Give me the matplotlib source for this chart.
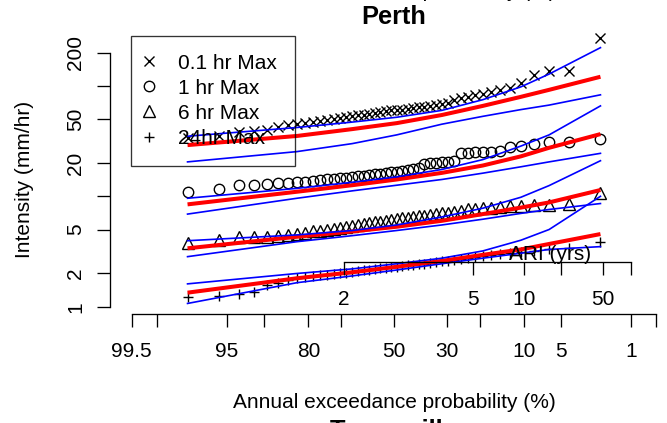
from statistics import NormalDist
import matplotlib
matplotlib.use('Agg')
import matplotlib.pyplot as plt

plt.rcParams['font.family'] = ['Liberation Sans', 'DejaVu Sans']

W, H = 667, 423                 # размер картинки в пикселях
FS = 15                         # основной размер шрифта

# Годовые максимумы интенсивности (мм/ч), по возрастанию
max_01hr = [34, 35, 38, 39, 40, 42, 44, 45, 46, 47, 48, 49, 50, 51, 52, 53,
            54, 55, 56, 57, 58, 59, 60, 60, 61, 62, 63, 64, 65, 66, 67, 68,
            70, 74, 78, 80, 83, 85, 88, 91, 96, 107, 126, 136, 136, 272]
max_1hr = [10.9, 11.6, 12.6, 12.6, 12.9, 13.1, 13.2, 13.4, 13.6, 13.8, 14.0,
           14.2, 14.4, 14.6, 14.8, 15.0, 15.2, 15.4, 15.6, 15.8, 16.0, 16.3,
           16.5, 16.7, 17.0, 17.3, 17.5, 18.0, 19.8, 20.0, 20.2, 20.4, 20.6,
           20.8, 24.5, 24.8, 25.0, 25.2, 25.4, 25.6, 28.0, 28.7, 29.6, 30.8,
           30.8, 32.8]
max_6hr = [3.80, 4.02, 4.25, 4.25, 4.30, 4.37, 4.47, 4.6, 4.7, 4.8, 4.9, 5.0,
           5.1, 5.2, 5.3, 5.4, 5.5, 5.6, 5.7, 5.8, 5.9, 6.0, 6.1, 6.2, 6.3,
           6.4, 6.5, 6.6, 6.7, 6.8, 6.9, 7.0, 7.1, 7.2, 7.4, 7.6, 7.7, 7.8,
           7.9, 8.0, 8.1, 8.2, 8.3, 8.4, 8.6, 10.7]
max_24hr = [1.23, 1.25, 1.30, 1.35, 1.57, 1.65, 1.74, 1.81, 1.85, 1.89, 1.92,
            1.95, 1.98, 2.01, 2.04, 2.07, 2.10, 2.13, 2.16, 2.19, 2.22, 2.25,
            2.28, 2.31, 2.34, 2.37, 2.40, 2.43, 2.46, 2.50, 2.54, 2.58, 2.62,
            2.66, 2.70, 2.74, 2.80, 2.86, 2.92, 3.00, 3.05, 3.10, 3.20, 3.30,
            3.40, 3.88]

# Подобранное распределение и доверительные границы в отдельных рангах
fit_ranks = [1, 8, 16, 24, 32, 38, 42, 44, 46]
fit_01hr = [29.1, 35.2, 40.6, 46.0, 54.5, 65.9, 79.6, 92.1, 121]
hi_01hr = [35.0, 42.0, 47.0, 52.0, 60.0, 75.0, 98.0, 128, 222]
lo_01hr = [20.5, 25.4, 30.0, 36.0, 45.0, 53.0, 61.0, 67.0, 83.0]
fit_1hr = [8.45, 11.0, 12.6, 14.2, 16.3, 19.0, 23.0, 27.5, 36.6]
hi_1hr = [9.6, 11.8, 13.4, 15.0, 17.5, 21.5, 28.5, 36.0, 65.9]
lo_1hr = [6.9, 9.6, 11.2, 12.6, 14.2, 16.2, 18.5, 20.5, 24.5]
fit_6hr = [3.38, 4.3, 4.8, 5.3, 6.0, 6.9, 7.9, 8.8, 11.4]
hi_6hr = [3.96, 4.47, 4.9, 5.5, 6.5, 7.8, 9.8, 12.5, 21.0]
lo_6hr = [2.84, 3.88, 4.4, 4.9, 5.5, 6.2, 7.0, 7.6, 8.6]
fit_24hr = [1.34, 1.81, 2.05, 2.3, 2.6, 2.95, 3.3, 3.7, 4.55]
hi_24hr = [1.61, 2.0, 2.2, 2.45, 2.75, 3.2, 4.0, 5.0, 10.0]
lo_24hr = [1.07, 1.65, 1.9, 2.15, 2.45, 2.75, 3.05, 3.3, 3.5]

series_labels = ['0.1 hr Max', '1 hr Max', '6 hr Max', '24hr Max']
series_markers = ['x', 'o', '^', '+']

# Шкалы осей
aep_ticks = [99.5, 99, 95, 90, 80, 70, 50, 30, 20, 10, 5, 1, 0.5]
aep_labels = ['99.5', '', '95', '', '80', '', '50', '30', '', '10', '5', '1', '']
ari_ticks = [2, 5, 10, 20, 50, 100]
ari_aep = [69, 22, 10, 5, 2, 1]
ari_labels = ['2', '5', '10', '', '50', '']
y_ticks = [1, 2, 5, 10, 20, 50, 100, 200]
y_labels = ['1', '2', '5', '', '20', '50', '', '200']

X0, XS = 394, 101.8             # пиксель и масштаб нормальной шкалы
Y1, YS = 306.7, 110.4           # пиксель значения 1 и пикселей на декаду


# Перевод вероятности превышения (%) в квантиль нормального распределения
def to_z(aep):
    return NormalDist().inv_cdf(1 - aep / 100)


# Позиция ранга по формуле Вейбулла
def rank_z(rank, n):
    return NormalDist().inv_cdf(rank / (n + 1))


def px_to_z(px):
    return (px - X0) / XS


def py_to_val(py):
    return 10 ** ((Y1 - py) / YS)


fig = plt.figure(figsize=(W / 100, H / 100), dpi=100)
ax = fig.add_axes([110 / W, (H - 314) / H, 557 / W, 284 / H])
ax.set_yscale('log')
ax.set_xlim(px_to_z(110), px_to_z(667))
ax.set_ylim(py_to_val(314), py_to_val(30))

n = len(max_01hr)
pts_z = [rank_z(i + 1, n) for i in range(n)]
fit_z = [rank_z(r, n) for r in fit_ranks]

series = [(max_01hr, fit_01hr, hi_01hr, lo_01hr),
          (max_1hr, fit_1hr, hi_1hr, lo_1hr),
          (max_6hr, fit_6hr, hi_6hr, lo_6hr),
          (max_24hr, fit_24hr, hi_24hr, lo_24hr)]

handles = []
for (obs, fit, hi, lo), mk, lab in zip(series, series_markers, series_labels):
    ms = 8.5 if mk == '^' else 7.5
    h, = ax.plot(pts_z, obs, linestyle='none', marker=mk, ms=ms, mew=1.0,
                 mfc='none', mec='black', color='black', label=lab)
    handles.append(h)
    ax.plot(fit_z, fit, color='#ff0000', lw=2.9, solid_capstyle='butt')
    ax.plot(fit_z, hi, color='#0000ff', lw=1.2)
    ax.plot(fit_z, lo, color='#0000ff', lw=1.2)

# Оси в стиле R: без рамки, линии только между крайними делениями
for side in ['top', 'right']:
    ax.spines[side].set_visible(False)
ax.spines['left'].set_bounds(y_ticks[0], y_ticks[-1])
ax.spines['bottom'].set_bounds(to_z(aep_ticks[0]), to_z(aep_ticks[-1]))
for sp in ['left', 'bottom']:
    ax.spines[sp].set_linewidth(0.95)

ax.set_xticks([to_z(a) for a in aep_ticks])
ax.set_xticklabels(aep_labels)
ax.set_yticks(y_ticks)
ax.set_yticklabels(y_labels)
ax.minorticks_off()
ax.tick_params(axis='both', direction='out', length=9.4, width=0.95,
               labelsize=FS)
ax.tick_params(axis='x', pad=10.5)
ax.tick_params(axis='y', pad=8.5, labelrotation=90)
for t in ax.get_yticklabels():
    t.set_va('center')

ax.set_xlabel('Annual exceedance probability (%)', fontsize=FS, va='center')
ax.xaxis.set_label_coords((394 - 110) / 557, (314 - 402) / 284)
ax.set_ylabel('Intensity (mm/hr)', fontsize=FS, va='center')
ax.yaxis.set_label_coords((25 - 110) / 557, (314 - 179.7) / 284)

# Вторая шкала: период повторяемости
ax2 = fig.add_axes([110 / W, (H - 262.3) / H, 557 / W, 0.01])
ax2.set_xlim(ax.get_xlim())
ax2.patch.set_visible(False)
for side in ['top', 'right', 'left']:
    ax2.spines[side].set_visible(False)
ax2.spines['bottom'].set_bounds(to_z(ari_aep[0]), to_z(ari_aep[-1]))
ax2.spines['bottom'].set_linewidth(0.95)
ax2.set_yticks([])
ax2.set_xticks([to_z(a) for a in ari_aep])
ax2.set_xticklabels(ari_labels)
ax2.tick_params(axis='x', direction='out', length=9.4, width=0.95,
                labelsize=FS, pad=10.5)
fig.text(550 / W, 1 - 255 / H, 'ARI (yrs)', fontsize=FS,
         ha='center', va='center')

leg = ax.legend(handles, series_labels, loc='upper left',
                bbox_to_anchor=(131 / W, 1 - 36 / H),
                bbox_transform=fig.transFigure, borderaxespad=0,
                borderpad=0.85, handlelength=0.05, handletextpad=1.38,
                labelspacing=0.29, numpoints=1, fontsize=FS,
                fancybox=False, edgecolor='black', facecolor='none')
leg.get_frame().set_linewidth(0.95)

fig.text(394 / W, 1 - 24 / H, 'Perth', fontsize=18.3, fontweight='bold',
         ha='center', va='baseline')
# соседние панели, попавшие в кадр краем
fig.text(394 / W, 1 + 3 / H, 'Annual exceedance probability (%)',
         fontsize=FS, ha='center', va='baseline')
fig.text(394 / W, 1 - 438 / H, 'Townsville', fontsize=18.3,
         fontweight='bold', ha='center', va='baseline')

fig.savefig('out.png', dpi=100)
